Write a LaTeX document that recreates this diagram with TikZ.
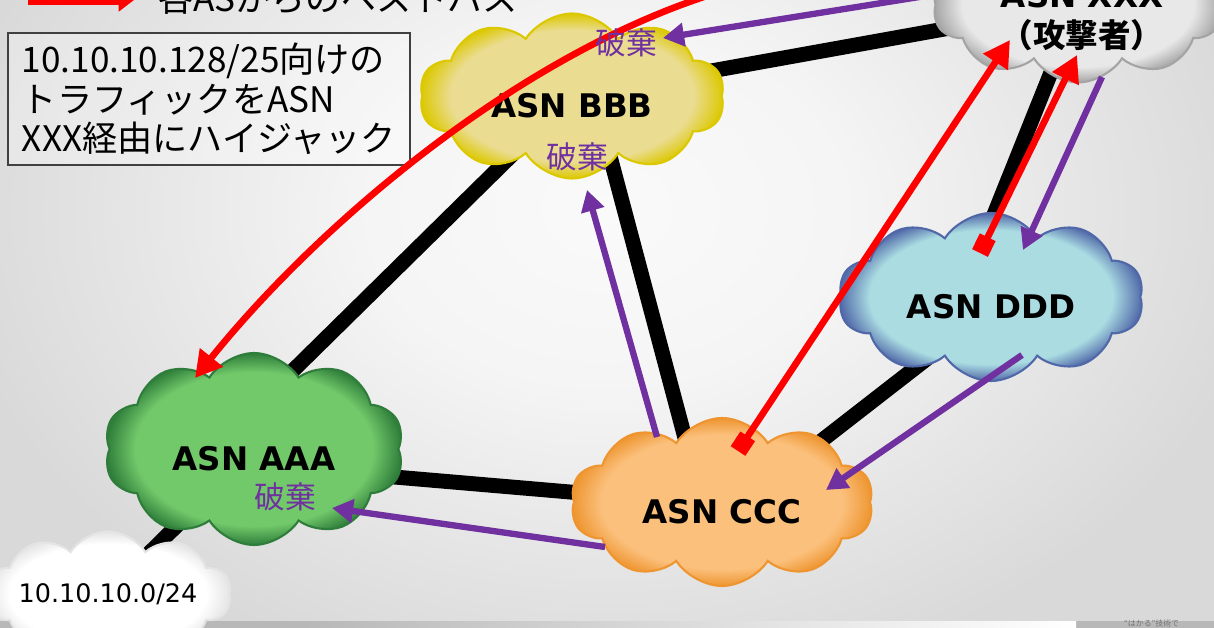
\documentclass[tikz,border=0pt]{standalone}
\usepackage{fontspec}
\setmainfont{DejaVu Sans}
\newfontfamily\jpfont{Noto Sans CJK JP}
\usepackage{tikz}
\usetikzlibrary{calc,arrows.meta,shapes.symbols}
\definecolor{hijack}{HTML}{FF0000}
\definecolor{drop}{HTML}{7030A0}
\definecolor{aaain}{HTML}{72C96A}
\definecolor{aaaout}{HTML}{2E7D3A}
\definecolor{bbbin}{HTML}{EADC90}
\definecolor{bbbout}{HTML}{DCC800}
\definecolor{cccin}{HTML}{FBC07C}
\definecolor{cccout}{HTML}{EE9530}
\definecolor{dddin}{HTML}{AADCE2}
\definecolor{dddout}{HTML}{5068A8}
\definecolor{xxxin}{HTML}{E8E8E8}
\definecolor{xxxout}{HTML}{A4A4A4}
\definecolor{netin}{HTML}{FFFFFF}
\definecolor{netout}{HTML}{E4E4E4}
\colorlet{cin}{white}
\colorlet{cout}{gray}
\pgfdeclareradialshading[cin,cout]{glow}{\pgfpoint{0bp}{0bp}}%
  {color(0bp)=(cin); color(20bp)=(cin); color(25bp)=(cout); color(50bp)=(cout)}
\pgfdeclareradialshading{backdrop}{\pgfpoint{0bp}{0bp}}%
  {color(0bp)=(white!98!black); color(9bp)=(white!96!black); color(25bp)=(black!15); color(50bp)=(black!15)}
\pgfdeclarelayer{bg}
\pgfdeclarelayer{links}
\pgfsetlayers{bg,links,main}
\tikzset{
  as/.style={cloud, cloud puffs=10, cloud puff arc=115, cloud ignores aspect,
    inner sep=0pt, shade, shading=glow, draw=#1out, line width=1.2pt,
    /utils/exec={\colorlet{cin}{#1in}\colorlet{cout}{#1out}}},
  asn/.style={font=\fontsize{18.5}{23}\selectfont\bfseries, text height=25pt, text depth=0pt},
  link/.style={draw=black, line width=8.5pt},
  route/.style={draw=hijack, line width=3.8pt, -{Triangle[length=15pt,width=16pt]}},
  routesq/.style={route, {Square[length=10pt,width=10pt]}-{Triangle[length=15pt,width=16pt]}},
  dropline/.style={draw=drop, line width=3.6pt, -{Triangle[length=12pt,width=13pt]}},
  discard/.style={text=drop, font=\jpfont\fontsize{17.5}{20}\selectfont, inner sep=0pt},
  note/.style={draw=black!75, line width=0.8pt, fill=white, fill opacity=0.3, text opacity=1,
    minimum width=8.04cm, minimum height=2.64cm, align=left,
    font=\jpfont\fontsize{20}{22.5}\selectfont},
}

\begin{document}
\begin{tikzpicture}[x=0.02cm, y=-0.02cm]
  \useasboundingbox (0,0) rectangle (1214,628);
  \begin{pgfonlayer}{bg}
    \shade[shading=backdrop] (-60,-280) rectangle (1274,700);
    \fill[black!28] (0,621) rectangle (1214,628);
    \shade[left color=black!28, right color=white] (300,621) rectangle (1076,628);
  \end{pgfonlayer}

  % legend
  \coordinate (keyA) at (28,-3);
  \coordinate (keyB) at (138,-3);
  \draw[hijack, line width=9pt, -{Triangle[length=11pt,width=16pt]}] (keyA) -- (keyB);
  \node[anchor=base west, font=\jpfont\fontsize{20}{22}\selectfont] (key) at (152,12) {各ASからのベストパス};

  \node[note] (note) at (209,99) {10.10.10.128/25向けの\\トラフィックをASN\\XXX経由にハイジャック};

  % clouds
  \node[as=bbb, asn, minimum width=6.1cm, minimum height=3.3cm] (BBB) at (572,96) {ASN BBB};
  \node[as=aaa, asn, minimum width=6.0cm, minimum height=3.84cm] (AAA) at (254,449) {ASN AAA};
  \node[as=ccc, asn, minimum width=6.05cm, minimum height=3.36cm] (CCC) at (722,502) {ASN CCC};
  \node[as=ddd, asn, minimum width=6.1cm, minimum height=3.36cm] (DDD) at (991,297) {ASN DDD};
  \node[as=xxx, minimum width=5.8cm, minimum height=3.1cm] (XXX) at (1078,5) {};
  \node[as=net, minimum width=4.36cm, minimum height=2.5cm, font=\fontsize{14.5}{16}\selectfont] (NET) at (108,594) {10.10.10.0/24};
  \node[align=center, font=\fontsize{18.5}{23}\selectfont\bfseries] (XXXname) at (1082,17)
    {ASN XXX\\{\jpfont\bfseries （攻撃者）}};

  \begin{pgfonlayer}{links}
    \draw[link] (NET.center) -- (AAA.center);
    \draw[link] ($(AAA)+(10,-50)$) -- (BBB.center);
    \draw[link] ($(AAA)+(0,16)$) -- ($(CCC)+(0,3)$);
    \draw[link] ($(BBB)+(22,0)$) -- ($(CCC)+(-20,0)$);
    \draw[link] (BBB.center) -- (XXX.center);
    \draw[link] (XXX.center) -- ($(DDD)+(-30,0)$);
    \draw[link] ($(CCC)+(0,16)$) -- ($(DDD)+(0,12)$);
  \end{pgfonlayer}

  % hijacked best paths
  \coordinate (far) at (775,-22);
  \draw[route] (far) .. controls (560,20) and (330,210) .. ($(AAA)+(-59,-71)$);
  \draw[routesq] ($(CCC)+(16,-51)$) -- ($(XXX)+(-68,35)$);
  \draw[routesq] ($(DDD)+(-11,-44)$) -- ($(XXX)+(-1,50)$);

  % dropped traffic
  \draw[dropline] ($(XXX)+(-140,-11)$) -- ($(BBB)+(91,-58)$);
  \draw[dropline] ($(XXX)+(24,72)$) -- ($(DDD)+(32,-47)$);
  \draw[dropline] ($(DDD)+(31,58)$) -- ($(CCC)+(104,-12)$);
  \draw[dropline] ($(CCC)+(-117,45)$) -- ($(AAA)+(78,59)$);
  \draw[dropline] ($(CCC)+(-65,-65)$) -- ($(BBB)+(15,94)$);

  \node[discard] (dropB1) at ($(BBB)+(54,-53)$) {破棄};
  \node[discard] (dropB2) at ($(BBB)+(5,61)$) {破棄};
  \node[discard] (dropA) at ($(AAA)+(31,48)$) {破棄};

  \node[anchor=base west, text=black!55, font=\jpfont\fontsize{4.5}{5}\selectfont] (slogan) at (1118,626) {“はかる”技術で};
\end{tikzpicture}
\end{document}
